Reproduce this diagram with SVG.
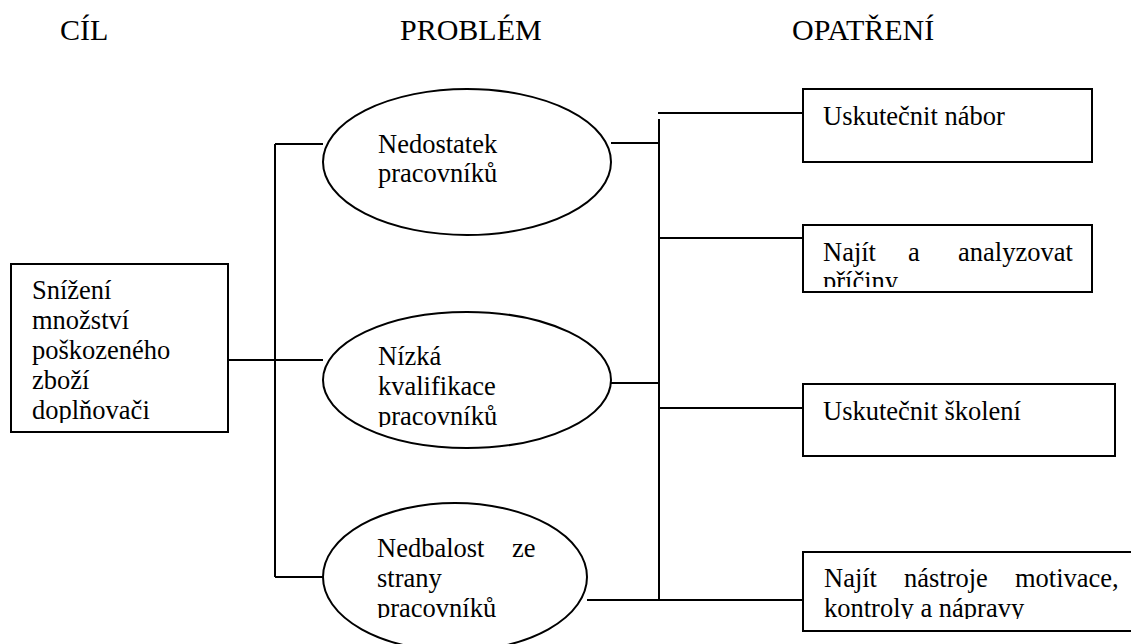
<svg xmlns="http://www.w3.org/2000/svg" width="1131" height="644" viewBox="0 0 1131 644">
<style>
.t{font-family:'Liberation Serif','Times New Roman','DejaVu Serif',serif;font-size:26.5px;fill:#000}
.h{font-family:'Liberation Serif','Times New Roman','DejaVu Serif',serif;font-size:30px;fill:#000}
.s{fill:#fff;stroke:#000;stroke-width:2}
.c{stroke:#000;stroke-width:2;fill:none}
</style>
<defs>
<clipPath id="cl0"><rect x="12" y="265" width="215" height="158"/></clipPath>
<clipPath id="cl2"><rect x="330" y="320" width="270" height="107"/></clipPath>
<clipPath id="cl3"><rect x="330" y="510" width="250" height="108"/></clipPath>
<clipPath id="clb2"><rect x="804" y="226" width="287" height="61"/></clipPath>
<clipPath id="clb4"><rect x="804" y="553" width="327" height="66"/></clipPath>
</defs>
<rect width="1131" height="644" fill="#fff"/>
<g id="headers">
<text class="h" x="60" y="40">CÍL</text>
<text class="h" x="400" y="40">PROBLÉM</text>
<text class="h" x="792" y="40">OPATŘENÍ</text>
</g>
<g id="connectors">
<path class="c" d="M275 144V577M275 144H323M275 577H323M228 360H323"/>
<path class="c" d="M659 119V600M658 113H803M611 143H659M659 238H803M611 383H659M659 408H803M587 600H803"/>
</g>
<g id="goal">
<rect class="s" x="11" y="264" width="217" height="168"/>
<g clip-path="url(#cl0)">
<text class="t" x="32" y="299">Snížení</text>
<text class="t" x="32" y="329">množství</text>
<text class="t" x="32" y="359">poškozeného</text>
<text class="t" x="32" y="389">zboží</text>
<text class="t" x="32" y="419">doplňovači</text>
</g>
</g>
<g id="problem1">
<ellipse class="s" cx="467" cy="162" rx="144" ry="73"/>
<text class="t" x="378" y="153">Nedostatek</text>
<text class="t" x="378" y="182">pracovníků</text>
</g>
<g id="problem2">
<ellipse class="s" cx="467" cy="380" rx="144" ry="68"/>
<g clip-path="url(#cl2)">
<text class="t" x="378" y="365">Nízká</text>
<text class="t" x="378" y="395">kvalifikace</text>
<text class="t" x="378" y="425">pracovníků</text>
</g>
</g>
<g id="problem3">
<ellipse class="s" cx="455" cy="577" rx="132" ry="74"/>
<g clip-path="url(#cl3)">
<text class="t" x="377" y="557">Nedbalost</text>
<text class="t" x="512" y="557">ze</text>
<text class="t" x="377" y="587">strany</text>
<text class="t" x="377" y="617">pracovníků</text>
</g>
</g>
<g id="measure1">
<rect class="s" x="803" y="89" width="289" height="73"/>
<text class="t" x="823" y="125">Uskutečnit nábor</text>
</g>
<g id="measure2">
<rect class="s" x="803" y="225" width="289" height="67"/>
<g clip-path="url(#clb2)">
<text class="t" x="823" y="261">Najít</text>
<text class="t" x="908" y="261">a</text>
<text class="t" x="958" y="261">analyzovat</text>
<text class="t" x="823" y="290">příčiny</text>
</g>
</g>
<g id="measure3">
<rect class="s" x="803" y="384" width="312" height="72"/>
<text class="t" x="823" y="420">Uskutečnit školení</text>
</g>
<g id="measure4">
<rect class="s" x="803" y="552" width="340" height="79"/>
<g clip-path="url(#clb4)">
<text class="t" x="824" y="587">Najít</text>
<text class="t" x="904" y="587">nástroje</text>
<text class="t" x="1015" y="587">motivace,</text>
<text class="t" x="824" y="617">kontroly a nápravy</text>
</g>
</g>
</svg>
